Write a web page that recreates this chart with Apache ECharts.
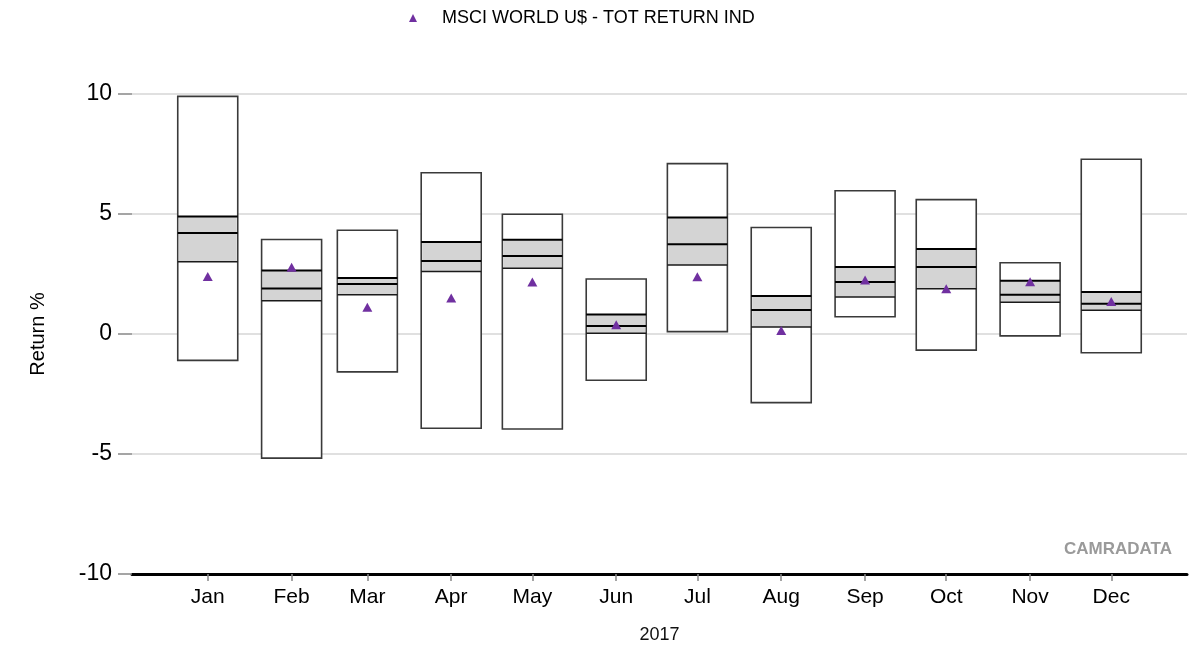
<!DOCTYPE html>
<html>
<head>
<meta charset="utf-8">
<title>Monthly return ranges 2017</title>
<script src="https://cdn.jsdelivr.net/npm/echarts@6/dist/echarts.min.js"></script>
<style>
  html, body { margin: 0; padding: 0; background: #fff; }
  #chart { width: 1202px; height: 652px; }
</style>
</head>
<body>
<div id="chart"></div>
<script>
// Month labels and their position on the axis (day of year, mid month)
const months = ['Jan', 'Feb', 'Mar', 'Apr', 'May', 'Jun', 'Jul', 'Aug', 'Sep', 'Oct', 'Nov', 'Dec'];
const monthPos = [15, 46, 74, 105, 135, 166, 196, 227, 258, 288, 319, 349];

// Peer range per month (Return %)
const high   = [9.90, 3.94, 4.32, 6.72, 4.99, 2.29, 7.10, 4.44, 5.97, 5.60, 2.97, 7.28];
const upperQ = [4.90, 2.65, 2.33, 3.83, 3.93, 0.81, 4.85, 1.58, 2.79, 3.54, 2.22, 1.75];
const median = [4.21, 1.90, 2.08, 3.04, 3.25, 0.33, 3.74, 1.00, 2.17, 2.79, 1.64, 1.26];
const lowerQ = [3.01, 1.39, 1.64, 2.60, 2.74, 0.03, 2.87, 0.29, 1.54, 1.89, 1.32, 0.99];
const low    = [-1.10, -5.17, -1.58, -3.93, -3.96, -1.93, 0.10, -2.86, 0.72, -0.67, -0.08, -0.78];

// Benchmark
const msciName = 'MSCI WORLD U$ - TOT RETURN IND';
const msci = [2.40, 2.78, 1.11, 1.50, 2.17, 0.39, 2.39, 0.15, 2.25, 1.89, 2.18, 1.35];

const yTicks = [-10, -5, 0, 5, 10];

const FONT = '"Liberation Sans", Arial, sans-serif';
const BOX_W = 60;

const boxData = monthPos.map((p, i) => [p, low[i], lowerQ[i], median[i], upperQ[i], high[i]]);
const msciData = monthPos.map((p, i) => [p, msci[i]]);

function renderBox(params, api) {
    const x = api.value(0);
    const pLow = api.coord([x, api.value(1)]);
    const pQ1 = api.coord([x, api.value(2)]);
    const pMed = api.coord([x, api.value(3)]);
    const pQ3 = api.coord([x, api.value(4)]);
    const pHigh = api.coord([x, api.value(5)]);
    const left = pLow[0] - BOX_W / 2;
    const right = pLow[0] + BOX_W / 2;
    return {
        type: 'group',
        children: [
            {
                type: 'rect',
                shape: { x: left, y: pHigh[1], width: BOX_W, height: pLow[1] - pHigh[1] },
                style: { fill: '#fff', stroke: '#3a3a3a', lineWidth: 1.6 }
            },
            {
                type: 'rect',
                shape: { x: left + 1, y: pQ3[1], width: BOX_W - 2, height: pQ1[1] - pQ3[1] },
                style: { fill: '#d4d4d4' }
            },
            {
                type: 'line',
                shape: { x1: left, y1: pQ3[1], x2: right, y2: pQ3[1] },
                style: { stroke: '#000', lineWidth: 2 }
            },
            {
                type: 'line',
                shape: { x1: left, y1: pMed[1], x2: right, y2: pMed[1] },
                style: { stroke: '#000', lineWidth: 2 }
            },
            {
                type: 'line',
                shape: { x1: left, y1: pQ1[1], x2: right, y2: pQ1[1] },
                style: { stroke: '#1a1a1a', lineWidth: 1.5 }
            }
        ]
    };
}

const chart = echarts.init(document.getElementById('chart'), null, { renderer: 'canvas' });

const option = {
    animation: false,
    backgroundColor: '#fff',
    textStyle: { fontFamily: FONT },
    grid: { left: 132, right: 15, top: 94, bottom: 78 },
    legend: {
        data: [msciName],
        left: 409,
        top: 9,
        padding: 0,
        itemWidth: 8,
        itemHeight: 8,
        icon: 'triangle',
        itemStyle: { opacity: 1 },
        textStyle: {
            fontFamily: FONT,
            fontSize: 18,
            color: '#000',
            padding: [0, 0, 0, 20]
        }
    },
    xAxis: {
        type: 'value',
        min: -13,
        max: 377,
        name: '2017',
        nameLocation: 'middle',
        nameGap: 52,
        nameTextStyle: { fontSize: 18, color: '#111', fontFamily: FONT },
        axisLine: { show: true, onZero: false, lineStyle: { color: '#000', width: 3 } },
        axisTick: {
            show: true,
            customValues: monthPos,
            length: 7,
            lineStyle: { color: '#888', width: 1.5 }
        },
        axisLabel: {
            customValues: monthPos,
            formatter: v => months[monthPos.indexOf(v)] || '',
            fontSize: 21,
            color: '#000',
            margin: 13
        },
        splitLine: { show: false }
    },
    yAxis: {
        type: 'value',
        min: yTicks[0],
        max: yTicks[yTicks.length - 1],
        interval: 5,
        name: 'Return %',
        nameLocation: 'middle',
        nameRotate: 90,
        nameGap: 84,
        nameTextStyle: { fontSize: 20, color: '#000', fontFamily: FONT },
        axisLine: { show: false, onZero: false },
        axisTick: { show: true, length: 14, lineStyle: { color: '#888', width: 1.5 } },
        axisLabel: { fontSize: 23, color: '#000', margin: 20 },
        splitLine: { show: true, lineStyle: { color: '#e0e0e0', width: 2 } }
    },
    graphic: [
        {
            type: 'text',
            right: 30,
            top: 541,
            style: {
                text: 'CAMRADATA',
                fill: '#9a9a9a',
                font: 'bold 17px ' + FONT
            }
        }
    ],
    series: [
        {
            name: 'Peer range',
            type: 'custom',
            renderItem: renderBox,
            encode: { x: 0, y: [1, 2, 3, 4, 5] },
            data: boxData,
            z: 2
        },
        {
            name: msciName,
            type: 'scatter',
            symbol: 'triangle',
            symbolSize: [10, 9],
            itemStyle: { color: '#7030a0', opacity: 1 },
            data: msciData,
            z: 5
        }
    ]
};

chart.setOption(option);
</script>
</body>
</html>
